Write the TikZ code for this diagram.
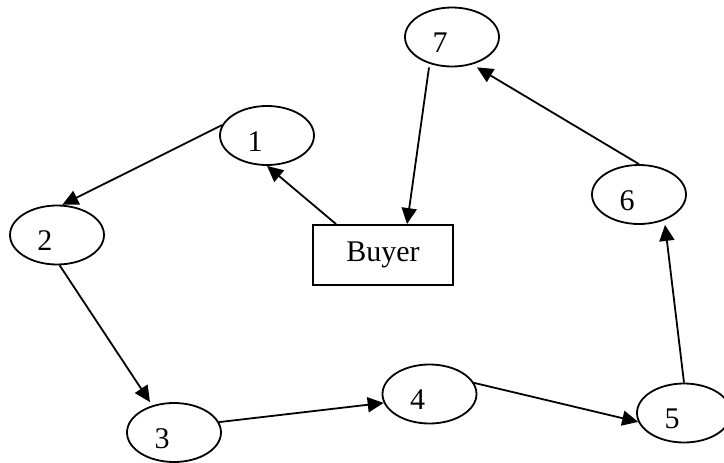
\documentclass[tikz,border=0pt]{standalone}
\usepackage{fontspec}
\setmainfont{Liberation Serif}
\usetikzlibrary{shapes.geometric, arrows.meta}
\tikzset{
	ovalnode/.style={ellipse, draw=black, line width=1.8pt, minimum width=94pt, minimum height=59pt, inner sep=0pt},
	boxnode/.style={rectangle, draw=black, line width=1.8pt, minimum width=140pt, minimum height=60pt},
	numlabel/.style={xshift=-12pt, yshift=-6pt},
	myarrow/.style={-{Triangle[length=16pt, width=15pt]}, line width=1.8pt}
}

\begin{document}
\begin{tikzpicture}[x=1pt, y=-1pt, font=\fontsize{30}{36}\selectfont]
	\useasboundingbox (0,0) rectangle (724,463);

	\node[ovalnode, label={[numlabel]center:7}] at (452,37) (n7) {};
	\node[ovalnode, label={[numlabel]center:1}] at (267,135.5) (n1) {};
	\node[ovalnode, label={[numlabel]center:2}] at (57,235) (n2) {};
	\node[ovalnode, label={[numlabel]center:3}] at (174,432.5) (n3) {};
	\node[ovalnode, label={[numlabel]center:4}] at (429.5,394) (n4) {};
	\node[ovalnode, label={[numlabel]center:5}] at (684,413) (n5) {};
	\node[ovalnode, label={[numlabel]center:6}] at (639,194.5) (n6) {};
	\node[boxnode] at (383,255) (buyer) {Buyer};

	\draw[myarrow] ([xshift=24pt]buyer.north west) -- (n1.south);
	\draw[myarrow] ([xshift=-23pt]n7.south) -- ([xshift=24pt]buyer.north);
	\draw[myarrow] (n1.167) -- (n2.80);
	\draw[myarrow] (n2.-85) -- ([xshift=-24pt]n3.north);
	\draw[myarrow] (n3.13) -- (n4.-169);
	\draw[myarrow] (n4.14) -- (n5.-169);
	\draw[myarrow] (n5.north) -- ([xshift=26pt]n6.south);
	\draw[myarrow] (n6.north) -- ([xshift=25pt]n7.south);
\end{tikzpicture}
\end{document}
